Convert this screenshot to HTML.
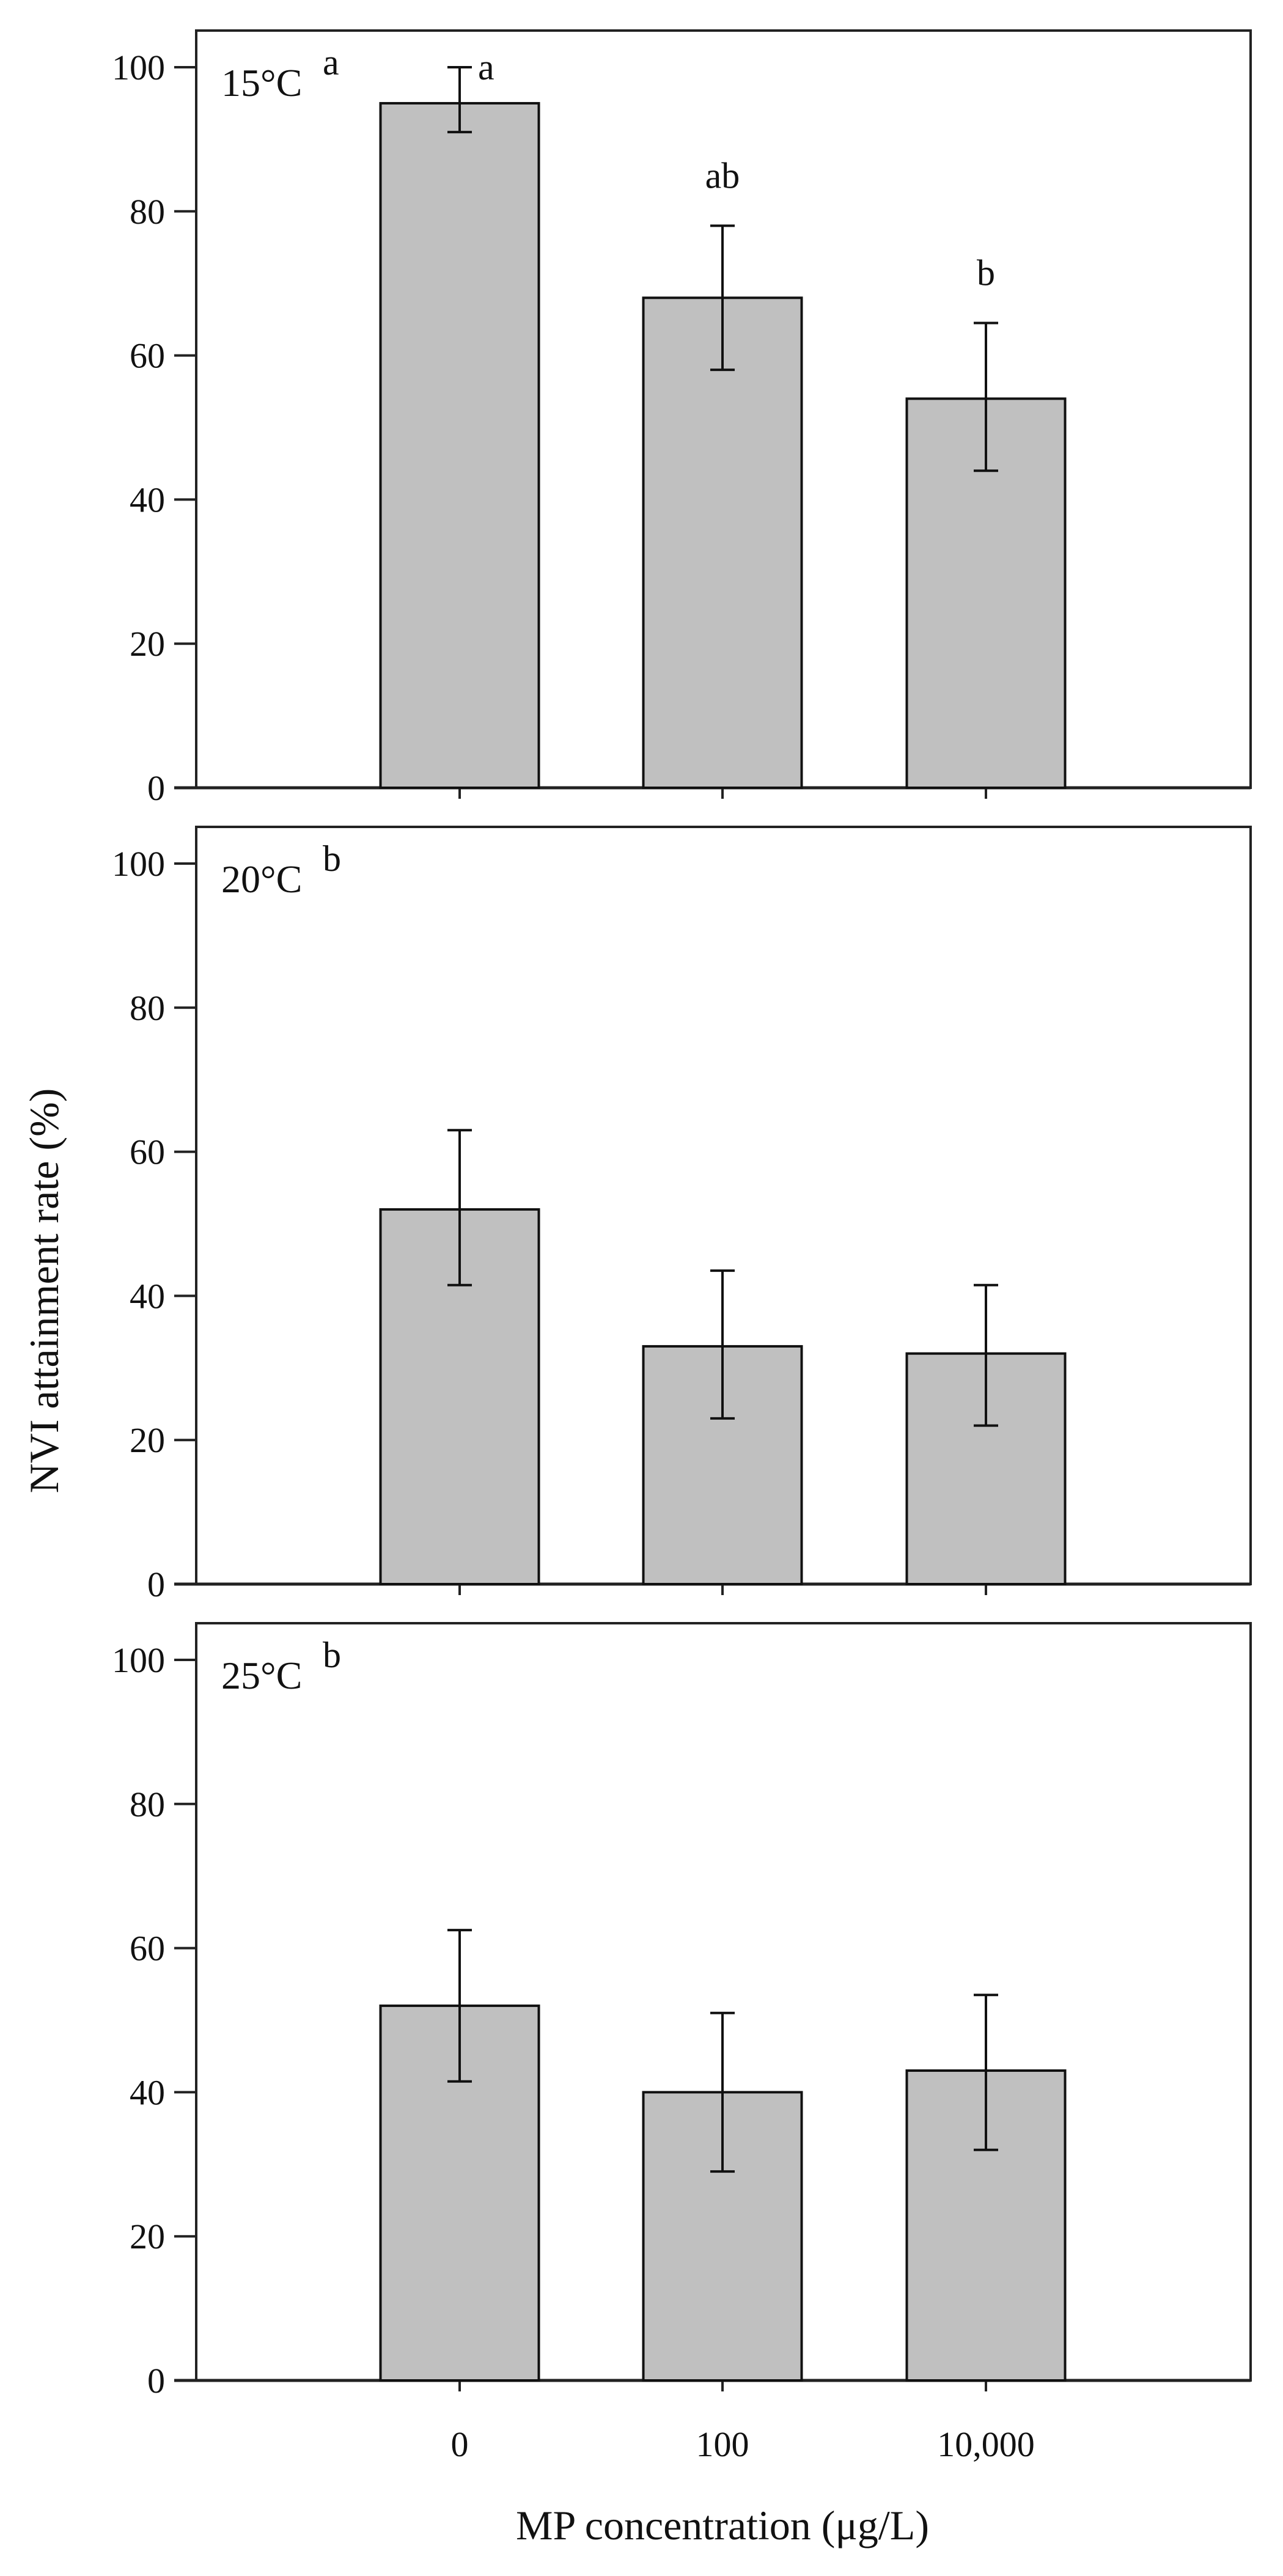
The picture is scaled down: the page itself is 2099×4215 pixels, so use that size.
<!DOCTYPE html>
<html><head><meta charset="utf-8"><style>
html,body{margin:0;padding:0;background:#fff;}
svg{display:block;font-family:"Liberation Serif",serif;}
</style></head><body>
<svg id="chart" width="2099" height="4215" viewBox="0 0 2099 4215" xmlns="http://www.w3.org/2000/svg">
<text x="0" y="0" transform="translate(95,2112) rotate(-90)" text-anchor="middle" font-size="68" fill="#111">NVI attainment rate (%)</text>
<text x="1182" y="4155" text-anchor="middle" font-size="68" fill="#111">MP concentration (μg/L)</text>
</svg>
<script>
const categories = ["0", "100", "10,000"];
const panelTitles = ["15°C", "20°C", "25°C"];
const panelLetters = ["a", "b", "b"];
const yTicks = [0, 20, 40, 60, 80, 100];
const values15 = [95, 68, 54];
const upper15 = [100, 78, 64.5];
const lower15 = [91, 58, 44];
const values20 = [52, 33, 32];
const upper20 = [63, 43.5, 41.5];
const lower20 = [41.5, 23, 22];
const values25 = [52, 40, 43];
const upper25 = [62.5, 51, 53.5];
const lower25 = [41.5, 29, 32];
const barLetters15 = ["a", "ab", "b"];

const svg = document.getElementById('chart');
const NS = 'http://www.w3.org/2000/svg';
function mk(tag, attrs, parent){const e=document.createElementNS(NS,tag);for(const k in attrs)e.setAttribute(k,attrs[k]);(parent||svg).appendChild(e);return e;}

const L=321, R=2046, PANEL_OFF=1303;
const xCenters=[752,1182,1613];
function xPos(i){return xCenters[i];}
const BW=259;
const panels=[[values15,upper15,lower15],[values20,upper20,lower20],[values25,upper25,lower25]];

panels.forEach((p,k)=>{
  const off=k*PANEL_OFF;
  const y0=1289+off, y100=110+off, top=50+off;
  const yS=v=>y0-(y0-y100)*v/100;
  const g=mk('g',{});
  
  
  const fr=mk('rect',{x:L,y:top,width:R-L,height:y0-top,fill:'none',stroke:'#222','stroke-width':4},g);
  
  
  yTicks.forEach(t=>{
    const ln=mk('line',{x1:L-36,x2:L,y1:yS(t),y2:yS(t),stroke:'#222','stroke-width':4},g);
    
    
    const tx=mk('text',{x:270,y:yS(t)+20,'text-anchor':'end','font-size':58,fill:'#111'},g);
    
    
    tx.textContent=t;
  });
  const ax=mk('line',{x1:L-36,x2:R,y1:y0,y2:y0,stroke:'#222','stroke-width':5},g);
  
  
  const tt=mk('text',{x:362,y:157+off,'font-size':64,fill:'#111'},g);
  
  
  tt.textContent=panelTitles[k];
  const tl=mk('text',{x:528,y:122+off,'font-size':60,fill:'#111'},g);
  
  
  tl.textContent=panelLetters[k];
  const [vals,ups,los]=p;
  categories.forEach((c,i)=>{
    const cx=xPos(i);
    const tk=mk('line',{x1:cx,x2:cx,y1:y0,y2:y0+18,stroke:'#222','stroke-width':4},g);
    
    
    const b=mk('rect',{x:cx-BW/2,y:yS(vals[i]),width:BW,height:y0-yS(vals[i]),fill:'#c0c0c0',stroke:'#111','stroke-width':4},g);
    
    
    const eg=mk('g',{stroke:'#111','stroke-width':4},g);
    
    
    mk('line',{x1:cx,x2:cx,y1:yS(ups[i]),y2:yS(los[i])},eg);
    mk('line',{x1:cx-20,x2:cx+20,y1:yS(ups[i]),y2:yS(ups[i])},eg);
    mk('line',{x1:cx-20,x2:cx+20,y1:yS(los[i]),y2:yS(los[i])},eg);
    if(k===0){
      const lt=mk('text',{x:i===0?cx+30:cx,y:i===0?yS(ups[i])+20:yS(ups[i])-62,'text-anchor':i===0?'start':'middle','font-size':60,fill:'#111'},g);
      
      
      lt.textContent=barLetters15[i];
    }
    if(k===2){
      const xl=mk('text',{x:cx,y:4019,'text-anchor':'middle','font-size':58,fill:'#111'},g);
      
      
      xl.textContent=c;
    }
  });
});
</script>
</body></html>
